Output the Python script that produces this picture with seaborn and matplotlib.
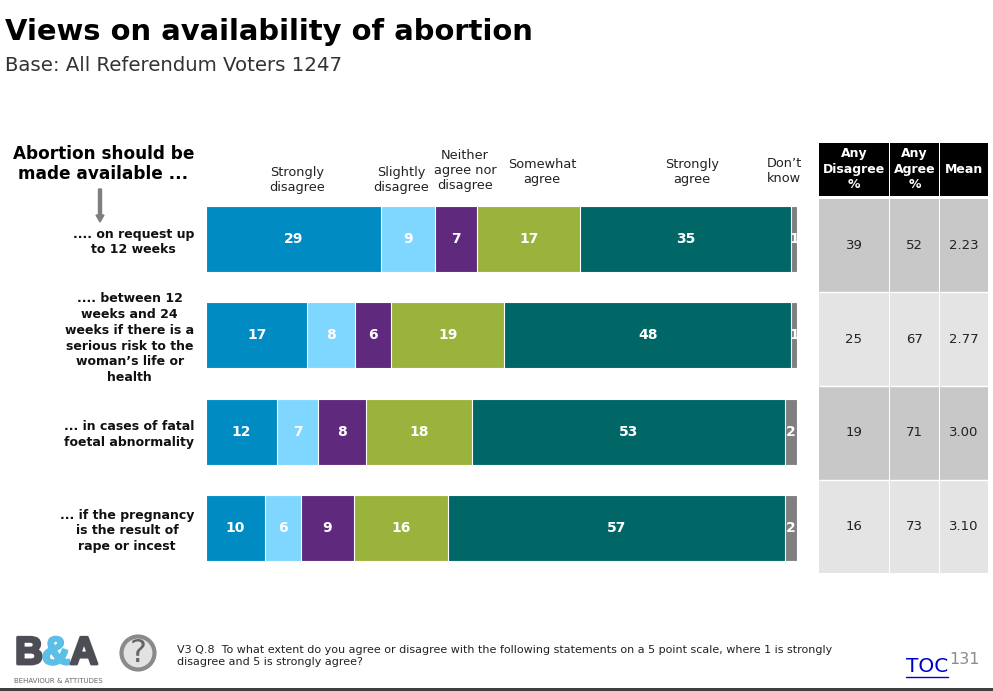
import matplotlib

matplotlib.use("Agg")
import matplotlib.patheffects as pe
import matplotlib.pyplot as plt
import numpy as np
import pandas as pd
import seaborn as sn
from matplotlib.colors import ListedColormap
from matplotlib.patches import Circle, FancyArrow

W, H = 993, 691

statements = [
    ".... on request up\nto 12 weeks",
    ".... between 12\nweeks and 24\nweeks if there is a\nserious risk to the\nwoman’s life or\nhealth",
    "... in cases of fatal\nfoetal abnormality",
    "... if the pregnancy\nis the result of\nrape or incest",
]
responses = [
    "Strongly disagree",
    "Slightly disagree",
    "Neither agree nor disagree",
    "Somewhat agree",
    "Strongly agree",
    "Don’t know",
]
strongly_disagree = [29, 17, 12, 10]
slightly_disagree = [9, 8, 7, 6]
neither = [7, 6, 8, 9]
somewhat_agree = [17, 19, 18, 16]
strongly_agree = [35, 48, 53, 57]
dont_know = [1, 1, 2, 2]

any_disagree = [39, 25, 19, 16]
any_agree = [52, 67, 71, 73]
mean_score = [2.23, 2.77, 3.00, 3.10]

colours = ["#008cc3", "#7fd7ff", "#5f2a7d", "#99b33c", "#006666", "#7f7f7f"]

# header text sits by hand above the bars: label, centre x, first line y
headers = [
    ("Strongly\ndisagree", 297, 172),
    ("Slightly\ndisagree", 401, 172),
    ("Neither\nagree nor\ndisagree", 465, 155),
    ("Somewhat\nagree", 542, 164),
    ("Strongly\nagree", 692, 164),
    ("Don’t\nknow", 784, 163),
]


def px_axes(fig, left, top, right, bottom):
    return fig.add_axes(
        [left / W, 1 - bottom / H, (right - left) / W, (bottom - top) / H]
    )


sn.set_theme(style="white")
plt.rcParams["font.family"] = ["DejaVu Sans"]

fig = plt.figure(figsize=(W / 100, H / 100), dpi=100, facecolor="white")

# stacked bars: everything is scaled to 100% per row, as in the original
series = [
    strongly_disagree,
    slightly_disagree,
    neither,
    somewhat_agree,
    strongly_agree,
    dont_know,
]
df = pd.DataFrame(series, index=responses, columns=statements).T
shares = df.div(df.sum(axis=1), axis=0) * 100
cum = shares.cumsum(axis=1)

ax = px_axes(fig, 206, 191, 797, 576)
long_df = cum.reset_index(names="statement").melt(
    id_vars="statement", var_name="response", value_name="cum"
)
for resp, col in reversed(list(zip(responses, colours))):
    sn.barplot(
        data=long_df[long_df["response"] == resp],
        x="cum",
        y="statement",
        order=statements,
        color=col,
        saturation=1,
        width=0.685,
        edgecolor="white",
        linewidth=0.8,
        errorbar=None,
        ax=ax,
    )
ax.set_xlim(0, 100)
ax.set_ylim(3.5, -0.5)
ax.set_xlabel("")
ax.set_ylabel("")
ax.set_xticks([])
ax.tick_params(axis="y", length=0, pad=8.5)
ax.set_yticks(range(len(statements)))
ax.set_yticklabels(
    statements,
    fontsize=9,
    fontweight="bold",
    color="#111111",
    ha="right",
    multialignment="center",
    linespacing=1.27,
)
ax.patch.set_alpha(0)
sn.despine(ax=ax, left=True, bottom=True)

for row, statement in enumerate(statements):
    for resp in responses:
        mid = cum.loc[statement, resp] - shares.loc[statement, resp] / 2
        ax.text(
            mid,
            row,
            str(df.loc[statement, resp]),
            color="white",
            fontsize=10,
            fontweight="bold",
            ha="center",
            va="center",
        )

# summary table, one heatmap per column because the widths differ
table_cols = [
    ("Any\nDisagree\n%", any_disagree, "d", 819, 889),
    ("Any\nAgree\n%", any_agree, "d", 890, 939),
    ("Mean", mean_score, ".2f", 940, 988),
]
bands = ListedColormap(["#c8c8c8", "#e4e4e4"])
for title, values, fmt, left, right in table_cols:
    head = px_axes(fig, left, 143, right, 196)
    head.set_facecolor("black")
    head.set_xticks([])
    head.set_yticks([])
    sn.despine(ax=head, left=True, bottom=True)
    head.text(
        0.5,
        0.5,
        title,
        color="white",
        fontsize=9,
        fontweight="bold",
        ha="center",
        va="center",
        linespacing=1.25,
        transform=head.transAxes,
    )

    cell_ax = px_axes(fig, left, 199, right, 573)
    sn.heatmap(
        np.array([[0], [1], [0], [1]]),
        annot=np.array(values).reshape(-1, 1),
        fmt=fmt,
        annot_kws={"fontsize": 9.5, "color": "#222222"},
        cmap=bands,
        cbar=False,
        linewidths=0,
        xticklabels=False,
        yticklabels=False,
        ax=cell_ax,
    )
    cell_ax.hlines([1, 2, 3], 0, 1, color="white", lw=1)

# everything else is laid out in pixels on a full size overlay
canvas = fig.add_axes([0, 0, 1, 1], zorder=5)
canvas.set_xlim(0, W)
canvas.set_ylim(H, 0)
canvas.axis("off")

canvas.text(5, 32, "Views on availability of abortion", fontsize=20.9,
            fontweight="bold", color="black", va="center")
canvas.text(5, 65, "Base: All Referendum Voters 1247", fontsize=14.2,
            color="#333333", va="center")
canvas.text(103.5, 164, "Abortion should be\nmade available ...", fontsize=12.2,
            fontweight="bold", color="black", ha="center", va="center",
            linespacing=1.15)
canvas.add_patch(
    FancyArrow(100, 189, 0, 33, width=3, head_width=8, head_length=7,
               length_includes_head=True, color="#7f7f7f")
)

for label, x, y in headers:
    lines = label.split("\n")
    for i, line in enumerate(lines):
        canvas.text(x, y + i * 15, line, fontsize=9.3, color="#222222",
                    ha="center", va="center")

# logo, thickened with a stroke since no installed font is that heavy
for letter, x, col in [("B", 15, "#4d4d55"), ("&", 42, "#5bbfe8"), ("A", 70, "#4d4d55")]:
    canvas.text(x, 654, letter, fontsize=28, fontweight="bold", color=col,
                family="Liberation Sans", va="center",
                path_effects=[pe.withStroke(linewidth=2, foreground=col)])
canvas.text(14, 681, "BEHAVIOUR & ATTITUDES", fontsize=5, color="#666666",
            va="center")

# help icon
canvas.add_patch(Circle((138, 653), 16.5, fc="#e2e2e2", ec="#8a8a8a", lw=3))
canvas.text(138, 653, "?", fontsize=23, color="#666666", ha="center",
            va="center")

canvas.text(177, 656,
            "V3 Q.8  To what extent do you agree or disagree with the following "
            "statements on a 5 point scale, where 1 is strongly\n"
            "disagree and 5 is strongly agree?",
            fontsize=8, color="#222222", va="center", linespacing=1.35)

toc = canvas.text(906, 667, "TOC", fontsize=14.5, color="#0000cc", va="center")
canvas.plot([906, 948], [677, 677], color="#0000cc", lw=1)
canvas.text(949, 659, "131", fontsize=11.5, color="#8c8c8c", va="center")

# dark strip along the bottom edge
canvas.axhspan(687.5, 691, color="#404040", lw=0)

fig.savefig("out.png", dpi=100)
